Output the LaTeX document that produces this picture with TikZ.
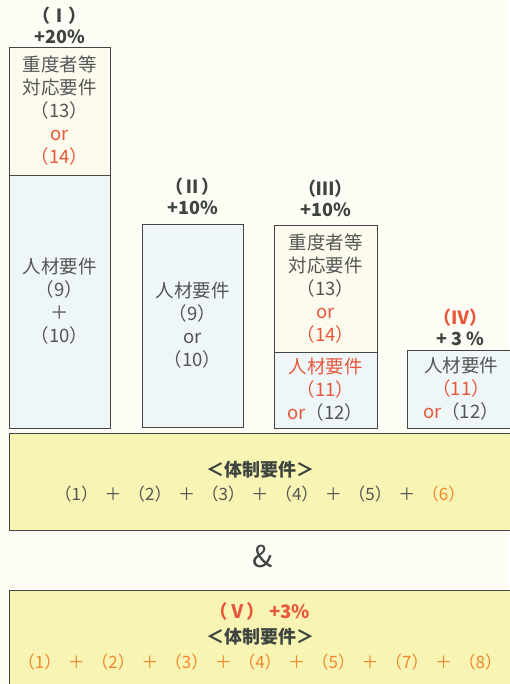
\documentclass[tikz,border=0pt]{standalone}
\usepackage{fontspec}
\setmainfont{Noto Sans CJK JP}
\definecolor{bg}{HTML}{FDFDF6}
\definecolor{cream}{HTML}{FCFBEE}
\definecolor{lblue}{HTML}{EEF6F8}
\definecolor{yel}{HTML}{F8F4B4}
\definecolor{boxline}{HTML}{454545}
\definecolor{txt}{HTML}{555555}
\definecolor{dark}{HTML}{3E4440}
\definecolor{red}{HTML}{E8573A}
\definecolor{orng}{HTML}{F0882E}
\newcommand{\pl}{\hspace{6.5pt}＋\hspace{6.5pt}}
\begin{document}
\begin{tikzpicture}[x=1pt,y=-1pt,
  box/.style={draw=boxline, line width=0.9pt, inner sep=0pt, align=center, text=txt,
    font=\fontsize{18.5}{23}\selectfont},
  toplab/.style={align=center, text=dark, inner sep=0pt, font=\fontsize{18}{21}\selectfont\bfseries},
  bigbox/.style={draw=boxline, line width=0.9pt, fill=yel, inner sep=0pt}
]
\useasboundingbox (0,0) rectangle (509,684);
\fill[bg] (0,0) rectangle (509,684);

% Column I
\node[box, fill=cream, minimum width=101pt, minimum height=128pt] (b1top) at (59.5,111)
  {重度者等\\対応要件\\（13）\\\textcolor{red}{or}\\\textcolor{red}{（14）}};
\node[box, fill=lblue, minimum width=101pt, minimum height=253pt] (b1bot) at (59.5,301.5)
  {人材要件\\（9）\\＋\\（10）};
\node[toplab] (l1) at (59.5,25) {（Ⅰ）\\+20\%};

% Column II
\node[box, fill=lblue, minimum width=101pt, minimum height=203pt] (b2) at (192.5,325.5)
  {人材要件\\（9）\\or\\（10）};
\node[toplab] (l2) at (192.5,196.5) {（Ⅱ）\\+10\%};

% Column III
\node[box, fill=cream, minimum width=103pt, minimum height=127pt] (b3top) at (325.5,288.5)
  {重度者等\\対応要件\\（13）\\\textcolor{red}{or}\\\textcolor{red}{（14）}};
\node[box, fill=lblue, minimum width=103pt, minimum height=76pt] (b3bot) at (325.5,390)
  {\textcolor{red}{人材要件}\\\textcolor{red}{（11）}\\\textcolor{red}{or}（12）};
\node[toplab] (l3) at (325.5,198) {（Ⅲ）\\+10\%};

% Column IV
\node[box, fill=lblue, minimum width=108pt, minimum height=78pt] (b4) at (461,389)
  {人材要件\\\textcolor{red}{（11）}\\\textcolor{red}{or}（12）};
\node[toplab] (l4) at (460,327.5) {\textcolor{red}{（Ⅳ）}\\+ 3 \%};

% System requirements
\node[bigbox, minimum width=502pt, minimum height=97pt] (sys1) at (260,481.5) {};
\node[align=center, inner sep=0pt, text=txt, font=\fontsize{17}{24}\selectfont] (sys1t) at (260,482)
  {{\fontsize{18}{24}\selectfont\bfseries\textcolor{dark}{＜体制要件＞}}\\
   （1）\pl（2）\pl（3）\pl（4）\pl（5）\pl\textcolor{orng}{（6）}};

\node[text=dark, inner sep=0pt, font=\fontsize{30}{30}\selectfont] (amp) at (263,556) {\&};

\node[bigbox, minimum width=502pt, minimum height=110pt] (sys2) at (260,645) {};
\node[align=center, inner sep=0pt, font=\fontsize{17}{25}\selectfont] (sys2t) at (260,636)
  {{\fontsize{18.5}{25}\selectfont\bfseries\textcolor{red}{（Ⅴ）\hspace{4pt}+3\%}}\\
   {\fontsize{18}{25}\selectfont\bfseries\textcolor{dark}{＜体制要件＞}}\\
   \textcolor{orng}{（1）\pl（2）\pl（3）\pl（4）\pl（5）\pl（7）\pl（8）}};
\end{tikzpicture}
\end{document}
